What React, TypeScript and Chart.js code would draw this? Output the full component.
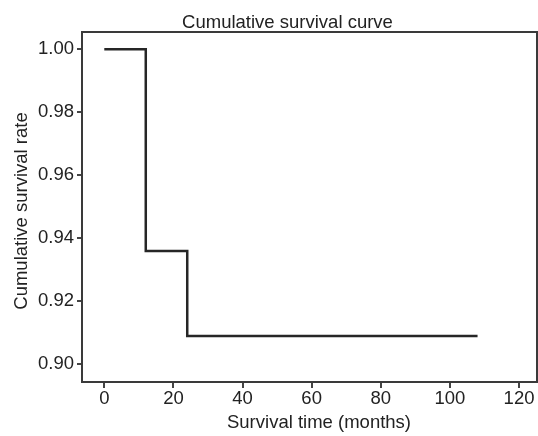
import React, { useEffect, useRef } from "react";
import { Chart, registerables } from "chart.js";

Chart.register(...registerables);

const times = [0, 12, 24, 108];
const survival = [1.0, 0.936, 0.909, 0.909];
const xTicks = [0, 20, 40, 60, 80, 100, 120];
const yTicks = [0.9, 0.92, 0.94, 0.96, 0.98, 1.0];
const titleText = "Cumulative survival curve";
const xTitle = "Survival time (months)";
const yTitle = "Cumulative survival rate";

const FONT = "'Liberation Sans', Arial, Helvetica, sans-serif";
const FS = 18.5;

export default function App() {
  const ref = useRef<HTMLCanvasElement | null>(null);
  useEffect(() => {
    document.body.style.margin = "0";
    const canvas = ref.current!;
    const framePlugin = {
      id: "frameTitles",
      afterDraw(chart: any) {
        const { ctx, chartArea } = chart;
        ctx.save();
        ctx.strokeStyle = "#3a3a3a";
        ctx.lineWidth = 2;
        ctx.strokeRect(chartArea.left, chartArea.top, chartArea.right - chartArea.left, chartArea.bottom - chartArea.top);
        ctx.fillStyle = "#222";
        ctx.font = `${FS}px ${FONT}`;
        ctx.textAlign = "center";
        ctx.textBaseline = "alphabetic";
        ctx.fillText(titleText, 287.5, 27.5);
        ctx.fillText(xTitle, 319, 427.5);
        ctx.translate(27, 211);
        ctx.rotate(-Math.PI / 2);
        ctx.fillText(yTitle, 0, 0);
        ctx.restore();
      },
    };
    const chart = new Chart(canvas, {
      type: "line",
      data: {
        datasets: [
          {
            data: times.map((t, i) => ({ x: t, y: survival[i] })),
            borderColor: "#262626",
            borderWidth: 2.5,
            pointRadius: 0,
            stepped: true,
            fill: false,
          },
        ],
      },
      options: {
        animation: false,
        responsive: false,
        layout: { padding: { top: 32, right: 1, left: 0, bottom: 0 } },
        plugins: { legend: { display: false }, title: { display: false }, tooltip: { enabled: false } },
        scales: {
          x: {
            type: "linear",
            min: -6.45,
            max: 125.2,
            afterFit: (s: any) => { s.height = 54; },
            afterBuildTicks: (s: any) => { s.ticks = xTicks.map((v) => ({ value: v })); },
            grid: { drawOnChartArea: false, drawTicks: true, tickLength: 6, color: "#444", lineWidth: 2 },
            border: { display: false },
            ticks: { padding: 0, color: "#222", font: { family: FONT, size: FS }, maxRotation: 0, autoSkip: false },
          },
          y: {
            type: "linear",
            min: 0.8944,
            max: 1.0055,
            afterFit: (s: any) => { s.width = 82; },
            afterBuildTicks: (s: any) => { s.ticks = yTicks.map((v) => ({ value: v })); },
            grid: { drawOnChartArea: false, drawTicks: true, tickLength: 5, color: "#444", lineWidth: 2 },
            border: { display: false },
            ticks: {
              padding: 3,
              color: "#222",
              font: { family: FONT, size: FS },
              autoSkip: false,
              callback: (v: any) => Number(v).toFixed(2),
            },
          },
        },
      },
      plugins: [framePlugin],
    });
    return () => chart.destroy();
  }, []);
  return (
    <div style={{ width: 538, height: 436 }}>
      <canvas ref={ref} width={538} height={436} style={{ display: "block" }} />
    </div>
  );
}
